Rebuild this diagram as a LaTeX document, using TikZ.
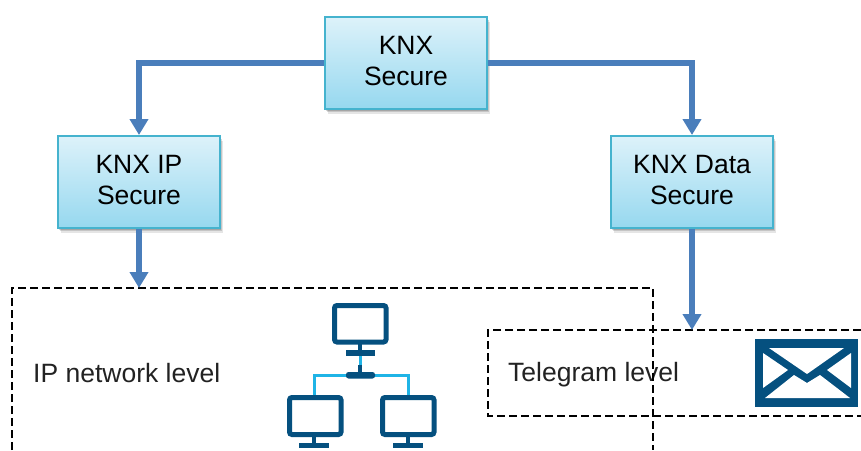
\documentclass[tikz,border=0pt]{standalone}
\usepackage{fontspec}
\setmainfont{Liberation Sans}
\usetikzlibrary{arrows.meta}
\definecolor{flowblue}{HTML}{4A7EBB}
\definecolor{boxedge}{HTML}{45B3CE}
\definecolor{boxtop}{HTML}{DDF2FA}
\definecolor{boxbot}{HTML}{96D8EF}
\definecolor{icondark}{HTML}{05507F}
\definecolor{iconcyan}{HTML}{1FB4E6}
\definecolor{txt}{HTML}{222222}
\tikzset{
  softshadow/.style={
    preaction={draw=none,fill=black,opacity=.16,transform canvas={xshift=1pt,yshift=-1.5pt}},
    preaction={draw=none,fill=black,opacity=.14,transform canvas={xshift=2pt,yshift=-3pt}},
    preaction={draw=none,fill=black,opacity=.10,transform canvas={xshift=3pt,yshift=-5pt}}},
  levelbox/.style={softshadow,draw=boxedge,line width=2pt,top color=boxtop,bottom color=boxbot,
    minimum width=162pt,minimum height=92pt,inner sep=0pt,align=center,text=black,
    font=\fontsize{26.5}{31}\selectfont,execute at end node={\rule[-5pt]{0pt}{5pt}}},
  flow/.style={draw=flowblue,line width=5.5pt,-{Triangle[width=18pt,length=16pt]}},
  zone/.style={draw=black,line width=1.8pt,dash pattern=on 8pt off 4pt},
  zonelabel/.style={inner sep=0pt,anchor=base west,text=txt,font=\fontsize{26.5}{31}\selectfont},
  screen/.style={draw=icondark,line width=5pt,rounded corners=2.5pt,fill=white},
  iconpart/.style={fill=icondark,draw=none},
  wire/.style={draw=iconcyan,line width=3pt},
}
\begin{document}
\begin{tikzpicture}[x=1pt,y=-1pt]
\useasboundingbox (0,0) rectangle (861,450);
% level labels
\node[zonelabel] (iplabel) at (33,382) {IP network level};
\node[zonelabel] (tellabel) at (508,381) {Telegram level};
% zones (cut off by the picture's lower and right edges)
\coordinate (ipTL) at (12,288);
\coordinate (ipTR) at (653,288);
\coordinate (ipBL) at (12,450);
\coordinate (ipBR) at (653,450);
\coordinate (telTL) at (488,330);
\coordinate (telTR) at (861,330);
\coordinate (telBL) at (488,416);
\coordinate (telBR) at (861,416);
\draw[zone] (ipBL) -- (ipTL) -- (ipTR) -- (ipBR);
\draw[zone] (telTR) -- (telTL) -- (telBL) -- (telBR);
% boxes and connectors
\coordinate (ipcentre) at (139,182);
\node[levelbox] (knx) at (406,63) {KNX\\Secure};
\node[levelbox] (ip) at (139,182) {KNX IP\\Secure};
\node[levelbox] (data) at (692,182) {KNX Data\\Secure};
\coordinate (ipin) at (ip.south |- ipTL);
\coordinate (telin) at (data.south |- telTL);
\draw[flow] (knx.west) -| (ip.north);
\draw[flow] (knx.east) -| (data.north);
\draw[flow] (ip.south) -- (ipin);
\draw[flow] (data.south) -- (telin);
% network icon
\draw[wire] (360,356) -- (360,375);
\draw[wire] (314,395) -- (314,375) -- (408,375) -- (408,395);
\draw[screen] (334.5,305.5) rectangle (386,342);
\fill[iconpart] (358,344) rectangle (362,351);
\fill[iconpart] (346,350) rectangle (375,356);
\fill[iconpart] (358,365) rectangle (362,373);
\fill[iconpart,rounded corners=2.5pt] (346,372) rectangle (375,378.5);
\draw[screen] (289.5,397.5) rectangle (341,434.5);
\fill[iconpart] (312,437) rectangle (316,444);
\fill[iconpart] (299,443) rectangle (329,448);
\draw[screen] (382.5,397.5) rectangle (434,434.5);
\fill[iconpart] (406,437) rectangle (410,444);
\fill[iconpart] (393,443) rectangle (423,448);
% envelope icon
\fill[icondark] (755,339) rectangle (858,407);
\fill[white] (769,348) -- (844,348) -- (807,374) -- cycle;
\fill[white] (763,353) -- (788,370) -- (763,388) -- cycle;
\fill[white] (851,353) -- (827,370) -- (851,388) -- cycle;
\fill[white] (765,398) -- (794,375) -- (807,383) -- (820,375) -- (850,398) -- cycle;
\end{tikzpicture}
\end{document}
